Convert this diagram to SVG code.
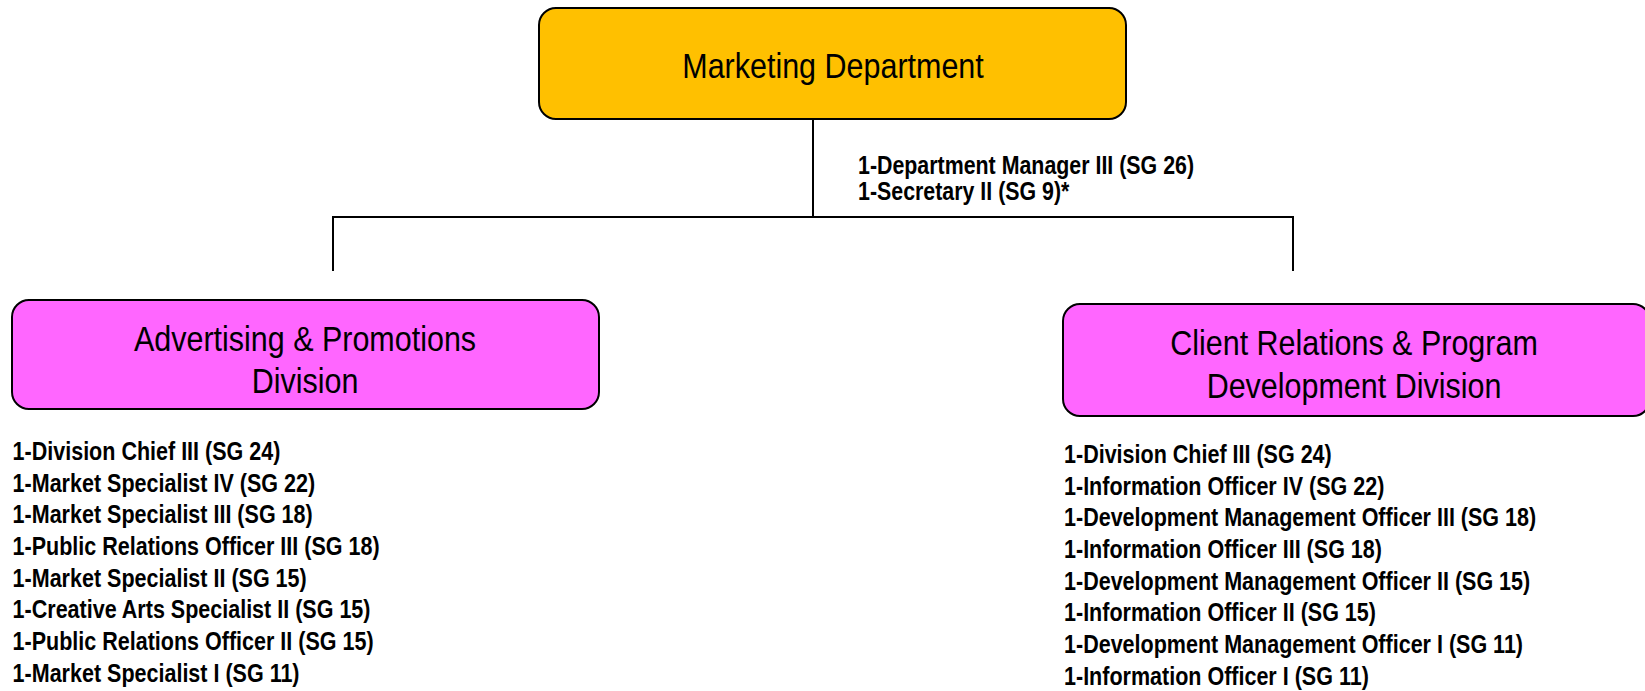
<svg xmlns="http://www.w3.org/2000/svg" width="1645" height="691" viewBox="0 0 1645 691">
<style>
.box{stroke:#000;stroke-width:2}
.dept{fill:#FFC000}
.div{fill:#FF66FF}
.title{font-family:"Liberation Sans",Arial,sans-serif;font-size:36px;fill:#000;text-anchor:middle}
.item{font-family:"Liberation Sans",Arial,sans-serif;font-size:25px;font-weight:bold;fill:#000}
.conn{stroke:#000;stroke-width:2;fill:none}
</style>
<rect width="1645" height="691" fill="#fff"/>
<g id="connectors">
<path class="conn" d="M813,119 V217"/>
<path class="conn" d="M333,271 V217 H1293 V271"/>
</g>
<g id="marketing-department">
<rect class="box dept" x="539" y="8" width="587" height="111" rx="17"/>
<text class="title" transform="translate(833,78) scale(0.847,1)">Marketing Department</text>
<g transform="translate(858,0) scale(0.855,1)">
<text class="item" x="0" y="174">1-Department Manager III (SG 26)</text>
<text class="item" x="0" y="200">1-Secretary II (SG 9)*</text>
</g>
</g>
<g id="advertising-promotions-division">
<rect class="box div" x="12" y="300" width="587" height="109" rx="17"/>
<text class="title" transform="translate(305,351) scale(0.847,1)">Advertising &amp; Promotions</text>
<text class="title" transform="translate(305,393) scale(0.847,1)">Division</text>
<g transform="translate(12.6,0) scale(0.861,1)">
<text class="item" x="0" y="460">1-Division Chief III (SG 24)</text>
<text class="item" x="0" y="491.7">1-Market Specialist IV (SG 22)</text>
<text class="item" x="0" y="523.4">1-Market Specialist III (SG 18)</text>
<text class="item" x="0" y="555.1">1-Public Relations Officer III (SG 18)</text>
<text class="item" x="0" y="586.8">1-Market Specialist II (SG 15)</text>
<text class="item" x="0" y="618.5">1-Creative Arts Specialist II (SG 15)</text>
<text class="item" x="0" y="650.2">1-Public Relations Officer II (SG 15)</text>
<text class="item" x="0" y="681.9">1-Market Specialist I (SG 11)</text>
</g>
</g>
<g id="client-relations-program-development-division">
<rect class="box div" x="1063" y="304" width="587" height="112" rx="17"/>
<text class="title" transform="translate(1354,355) scale(0.847,1)">Client Relations &amp; Program</text>
<text class="title" transform="translate(1354,398) scale(0.847,1)">Development Division</text>
<g transform="translate(1064,0) scale(0.861,1)">
<text class="item" x="0" y="463">1-Division Chief III (SG 24)</text>
<text class="item" x="0" y="494.7">1-Information Officer IV (SG 22)</text>
<text class="item" x="0" y="526.4">1-Development Management Officer III (SG 18)</text>
<text class="item" x="0" y="558.1">1-Information Officer III (SG 18)</text>
<text class="item" x="0" y="589.8">1-Development Management Officer II (SG 15)</text>
<text class="item" x="0" y="621.5">1-Information Officer II (SG 15)</text>
<text class="item" x="0" y="653.2">1-Development Management Officer I (SG 11)</text>
<text class="item" x="0" y="684.9">1-Information Officer I (SG 11)</text>
</g>
</g>
</svg>
